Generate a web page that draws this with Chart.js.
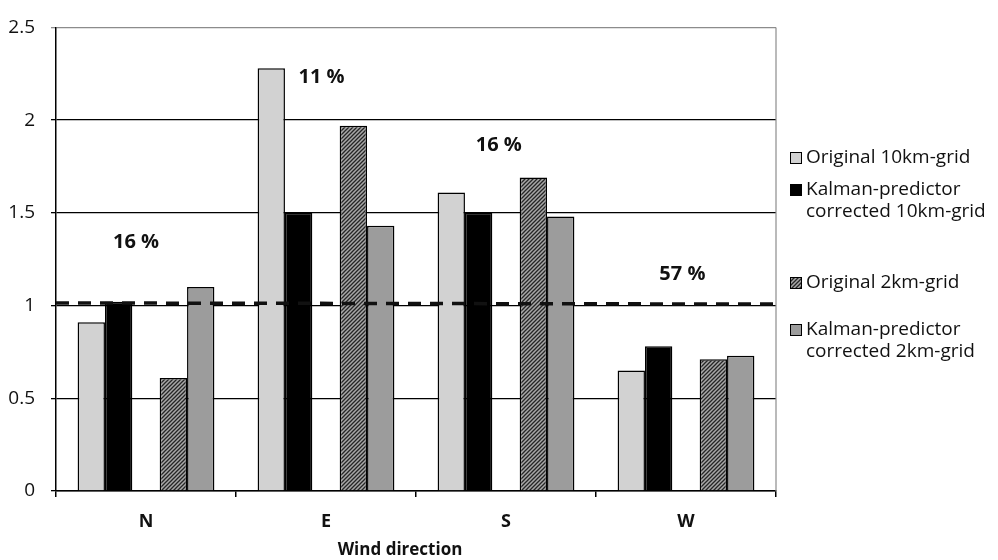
<!DOCTYPE html>
<html>
<head>
<meta charset="utf-8">
<script src="https://cdn.jsdelivr.net/npm/chart.js@4/dist/chart.umd.min.js"></script>
<style>
  html, body { margin: 0; padding: 0; background: #fff; }
  #wrap { width: 998px; height: 560px; position: relative; }
</style>
</head>
<body>
<div id="wrap"><canvas id="c" width="998" height="560"></canvas></div>
<script>
// Wind-direction categories and ratio values per model run
const directions = ['N', 'E', 'S', 'W'];
const original10km = [0.91, 2.28, 1.61, 0.65];
const kalman10km = [1.02, 1.50, 1.50, 0.78];
const original2km = [0.61, 1.97, 1.69, 0.71];
const kalman2km = [1.10, 1.43, 1.48, 0.73];
const emptySlot = [null, null, null, null];

// Share of cases per direction, written above each group
const shareLabels = ['16 %', '11 %', '16 %', '57 %'];
const shareLabelLevel = [1.34, 2.23, 1.865, 1.17];
const shareLabelShift = [-0.055, -0.025, -0.04, -0.02];

// Dashed reference level across the plot (left end, right end)
const referenceLevel = [1.014, 1.008];

const yTickValues = [0, 0.5, 1, 1.5, 2, 2.5];

const seriesNames = [
  ['Original 10km-grid'],
  ['Kalman-predictor', 'corrected 10km-grid'],
  ['Original 2km-grid'],
  ['Kalman-predictor', 'corrected 2km-grid']
];
const axisTitle = 'Wind direction';

const FONT = "'Open Sans', 'Liberation Sans', sans-serif";

function hatchPattern() {
  const p = document.createElement('canvas');
  p.width = 4; p.height = 4;
  const g = p.getContext('2d');
  g.fillStyle = '#a8a8a8';
  g.fillRect(0, 0, 4, 4);
  g.strokeStyle = '#262626';
  g.lineWidth = 1.3;
  g.beginPath();
  g.moveTo(0, 4); g.lineTo(4, 0);
  g.moveTo(-1, 1); g.lineTo(1, -1);
  g.moveTo(3, 5); g.lineTo(5, 3);
  g.stroke();
  return g.createPattern(p, 'repeat');
}

const ctx = document.getElementById('c').getContext('2d');
const hatch = hatchPattern();
const fills = ['#d2d2d2', '#000000', hatch, '#9c9c9c'];

function barSet(label, data, fill) {
  return {
    label: label,
    data: data,
    backgroundColor: fill,
    borderColor: '#000',
    borderWidth: 1.5,
    categoryPercentage: 0.76,
    barPercentage: 1.0
  };
}

const overlay = {
  id: 'overlay',
  afterDatasetsDraw(chart) {
    const { ctx, chartArea, scales } = chart;
    const x = scales.x, y = scales.y;
    ctx.save();

    // dashed reference level
    ctx.strokeStyle = '#111';
    ctx.lineWidth = 3.5;
    ctx.setLineDash([13, 9]);
    ctx.beginPath();
    ctx.moveTo(chartArea.left, y.getPixelForValue(referenceLevel[0]));
    ctx.lineTo(chartArea.right, y.getPixelForValue(referenceLevel[1]));
    ctx.stroke();
    ctx.setLineDash([]);

    // right frame edge
    ctx.strokeStyle = '#8c8c8c';
    ctx.lineWidth = 1.2;
    ctx.beginPath();
    ctx.moveTo(chartArea.right, chartArea.top);
    ctx.lineTo(chartArea.right, chartArea.bottom);
    ctx.stroke();

    // share labels
    ctx.fillStyle = '#111';
    ctx.font = 'bold 20px ' + FONT;
    ctx.textAlign = 'center';
    ctx.textBaseline = 'middle';
    const catW = (chartArea.right - chartArea.left) / directions.length;
    shareLabels.forEach((t, i) => {
      const px = x.getPixelForValue(i) + shareLabelShift[i] * catW;
      ctx.fillText(t, px, y.getPixelForValue(shareLabelLevel[i]));
    });

    // axis title
    ctx.font = 'bold 17px ' + FONT;
    ctx.fillText(axisTitle, (chartArea.left + chartArea.right) / 2 - 16, 550);

    // legend
    const rows = [158, 190, 283, 330];
    ctx.textAlign = 'left';
    ctx.font = '19px ' + FONT;
    const sets = chart.data.datasets.filter(d => d.label);
    sets.forEach((ds, i) => {
      const top = rows[i];
      ctx.fillStyle = ds.backgroundColor;
      ctx.fillRect(790, top - 6, 12, 12);
      ctx.strokeStyle = '#000';
      ctx.lineWidth = 1;
      ctx.strokeRect(790.5, top - 5.5, 11, 11);
      ctx.fillStyle = '#111';
      seriesNames[i].forEach((line, j) => {
        ctx.fillText(line, 806, top + j * 22);
      });
    });
    ctx.restore();
  }
};

new Chart(ctx, {
  type: 'bar',
  data: {
    labels: directions,
    datasets: [
      barSet(seriesNames[0].join(' '), original10km, fills[0]),
      barSet(seriesNames[1].join(' '), kalman10km, fills[1]),
      barSet('', emptySlot, 'rgba(0,0,0,0)'),
      barSet(seriesNames[2].join(' '), original2km, fills[2]),
      barSet(seriesNames[3].join(' '), kalman2km, fills[3])
    ]
  },
  options: {
    responsive: false,
    animation: false,
    events: [],
    layout: { padding: { left: 0, right: 222, top: 16, bottom: 0 } },
    plugins: {
      legend: { display: false },
      tooltip: { enabled: false },
      title: { display: false }
    },
    scales: {
      x: {
        grid: {
          drawOnChartArea: false,
          drawTicks: true,
          tickLength: 6,
          color: '#000',
          lineWidth: 1.5
        },
        border: { color: '#000', width: 1.5 },
        ticks: {
          color: '#111',
          font: { family: FONT, size: 18, weight: 'bold' },
          padding: 14
        },
        afterFit(s) { s.height = 69; }
      },
      y: {
        min: 0,
        max: 2.5,
        afterBuildTicks(s) { s.ticks = yTickValues.map(v => ({ value: v })); },
        grid: {
          color: (c) => (c.tick && c.tick.value === 2.5 ? '#8c8c8c' : '#000'),
          lineWidth: 1.3,
          drawTicks: true,
          tickLength: 5
        },
        border: { color: '#000', width: 1.5 },
        ticks: {
          color: '#111',
          font: { family: FONT, size: 19 },
          padding: 16,
          callback: (v) => String(v)
        },
        afterFit(s) { s.width = 56; }
      }
    }
  },
  plugins: [overlay]
});
</script>
</body>
</html>
